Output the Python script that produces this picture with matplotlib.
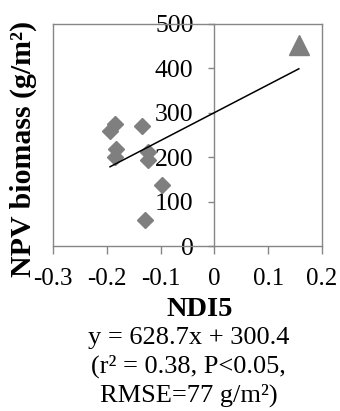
import matplotlib
matplotlib.use("Agg")
import matplotlib.pyplot as plt
import numpy as np
from matplotlib.lines import Line2D

plt.rcParams['font.family'] = ['Liberation Serif', 'DejaVu Serif']

# data
ndi5_diamond = [-0.194, -0.185, -0.182, -0.185, -0.135, -0.123, -0.123, -0.098, -0.129]
npv_diamond = [260, 275, 219, 200, 271, 211, 193, 137, 58]
ndi5_triangle = [0.157]
npv_triangle = [453]
slope, intercept = 628.7, 300.4
x_ticks = [-0.3, -0.2, -0.1, 0, 0.1, 0.2]
x_ticklabels = ['-0.3', '-0.2', '-0.1', '0', '0.1', '0.2']
y_ticks = [0, 100, 200, 300, 400, 500]
annot_lines = ['y = 628.7x + 300.4', '(r\u00b2 = 0.38, P<0.05,', 'RMSE=77 g/m\u00b2)']

W, H = 340, 411
fig = plt.figure(figsize=(W/100, H/100), dpi=100)
ax = fig.add_axes([53/W, 1-246/H, (322-53)/W, (246-24)/H])

gray = '#868686'
mcol = '#7f7f7f'

ax.plot(ndi5_diamond, npv_diamond, linestyle='none', marker='D', ms=8.4,
        color=mcol, mec=mcol, zorder=3)
ax.plot(ndi5_triangle, npv_triangle, linestyle='none', marker='^', ms=14,
        color=mcol, mec=mcol, zorder=3)
xs = np.array([min(ndi5_diamond + ndi5_triangle), max(ndi5_diamond + ndi5_triangle)])
ax.plot(xs, slope*xs + intercept, color='black', lw=1.1, zorder=4)

ax.set_xlim(-0.3, 0.2)
ax.set_ylim(0, 500)

for s in ['top', 'right', 'bottom', 'left']:
    ax.spines[s].set_color(gray)
    ax.spines[s].set_linewidth(1.0)
ax.spines['left'].set_position(('data', 0))
# left frame border
ax.add_line(Line2D([0, 0], [0, 1], transform=ax.transAxes, color=gray, lw=1.0, clip_on=False))

ax.set_xticks(x_ticks)
ax.set_xticklabels(x_ticklabels)
ax.set_yticks(y_ticks)
ax.tick_params(axis='x', direction='out', length=6, width=1.0, color=gray,
               labelsize=18, pad=9.5)
ax.tick_params(axis='y', direction='out', length=4, width=1.0, color=gray,
               labelsize=18.5, pad=11)

ax.set_xlabel('NDI5', fontsize=20.5, fontweight='bold')
ax.xaxis.set_label_coords((200-53)/269, -0.23)
ax.xaxis.label.set_va('top')

fig.text(23/W, 1-149/H, 'NPV biomass (g/m\u00b2)', rotation=90, ha='center', va='center',
         fontsize=21.5, fontweight='bold')

baselines = [344, 373, 402]
for txt, b in zip(annot_lines, baselines):
    fig.text(188.5/W, 1-b/H, txt, ha='center', va='baseline', fontsize=19)

fig.savefig('out.png', dpi=100)
